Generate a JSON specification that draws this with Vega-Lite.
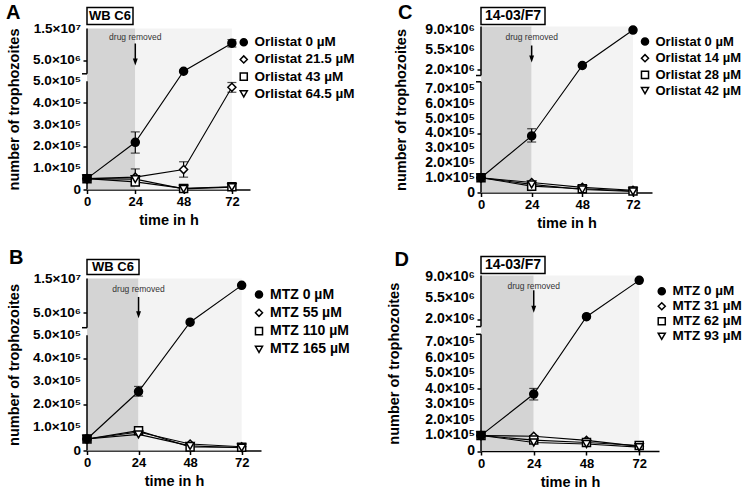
{
"$schema": "https://vega.github.io/schema/vega-lite/v6.json",
"padding": {"left": 5, "top": 1.5, "right": 5, "bottom": 0},
"config": {
  "font": "Liberation Sans",
  "view": {"stroke": null},
  "axis": {"grid": false, "labelFont": "Liberation Sans", "labelFontWeight": "bold", "labelColor": "black", "titleFont": "Liberation Sans", "titleFontWeight": "bold", "titleColor": "black", "tickColor": "black", "tickSize": 4, "tickWidth": 1.5, "domainColor": "black", "domainWidth": 1.5, "labelPadding": 2},
  "legend": {"labelFont": "Liberation Sans", "labelFontWeight": "bold", "labelColor": "black", "symbolStrokeColor": "black", "symbolStrokeWidth": 1.5, "symbolSize": 50, "labelOffset": 4, "padding": 0, "symbolOpacity": 1}
},
"datasets": {
  "phases": [{"start": 0, "end": 24, "phase": "drug"}, {"start": 24, "end": 72, "phase": "washout"}],
  "annot": [
    {"panel": "A", "label": "drug removed", "t": 24},
    {"panel": "B", "label": "drug removed", "t": 24},
    {"panel": "C", "label": "drug removed", "t": 24},
    {"panel": "D", "label": "drug removed", "t": 24}
  ],
  "boxes": [
    {"panel": "A", "label": "WB C6"},
    {"panel": "B", "label": "WB C6"},
    {"panel": "C", "label": "14-03/F7"},
    {"panel": "D", "label": "14-03/F7"}
  ],
  "yticks": [
    {"panel": "A", "value": 0, "label": "0"}, {"panel": "A", "value": 100000, "label": "1.0×10⁵"}, {"panel": "A", "value": 200000, "label": "2.0×10⁵"}, {"panel": "A", "value": 300000, "label": "3.0×10⁵"}, {"panel": "A", "value": 400000, "label": "4.0×10⁵"}, {"panel": "A", "value": 500000, "label": "5.0×10⁵"}, {"panel": "A", "value": 5000000, "label": "5.0×10⁶"}, {"panel": "A", "value": 15000000, "label": "1.5×10⁷"},
    {"panel": "B", "value": 0, "label": "0"}, {"panel": "B", "value": 100000, "label": "1.0×10⁵"}, {"panel": "B", "value": 200000, "label": "2.0×10⁵"}, {"panel": "B", "value": 300000, "label": "3.0×10⁵"}, {"panel": "B", "value": 400000, "label": "4.0×10⁵"}, {"panel": "B", "value": 500000, "label": "5.0×10⁵"}, {"panel": "B", "value": 5000000, "label": "5.0×10⁶"}, {"panel": "B", "value": 15000000, "label": "1.5×10⁷"},
    {"panel": "C", "value": 0, "label": "0"}, {"panel": "C", "value": 100000, "label": "1.0×10⁵"}, {"panel": "C", "value": 200000, "label": "2.0×10⁵"}, {"panel": "C", "value": 300000, "label": "3.0×10⁵"}, {"panel": "C", "value": 400000, "label": "4.0×10⁵"}, {"panel": "C", "value": 500000, "label": "5.0×10⁵"}, {"panel": "C", "value": 600000, "label": "6.0×10⁵"}, {"panel": "C", "value": 700000, "label": "7.0×10⁵"}, {"panel": "C", "value": 2000000, "label": "2.0×10⁶"}, {"panel": "C", "value": 5500000, "label": "5.5×10⁶"}, {"panel": "C", "value": 9000000, "label": "9.0×10⁶"},
    {"panel": "D", "value": 0, "label": "0"}, {"panel": "D", "value": 100000, "label": "1.0×10⁵"}, {"panel": "D", "value": 200000, "label": "2.0×10⁵"}, {"panel": "D", "value": 300000, "label": "3.0×10⁵"}, {"panel": "D", "value": 400000, "label": "4.0×10⁵"}, {"panel": "D", "value": 500000, "label": "5.0×10⁵"}, {"panel": "D", "value": 600000, "label": "6.0×10⁵"}, {"panel": "D", "value": 700000, "label": "7.0×10⁵"}, {"panel": "D", "value": 2000000, "label": "2.0×10⁶"}, {"panel": "D", "value": 5500000, "label": "5.5×10⁶"}, {"panel": "D", "value": 9000000, "label": "9.0×10⁶"}
  ],
  "growth": [
    {"panel": "A", "series": "Orlistat 21.5 µM", "t": 0, "v": 50000},
    {"panel": "A", "series": "Orlistat 21.5 µM", "t": 24, "v": 57000, "lo": 20000, "hi": 95000},
    {"panel": "A", "series": "Orlistat 21.5 µM", "t": 48, "v": 92000, "lo": 57000, "hi": 128000},
    {"panel": "A", "series": "Orlistat 21.5 µM", "t": 72, "v": 472000, "lo": 449000, "hi": 494000},
    {"panel": "A", "series": "Orlistat 43 µM", "t": 0, "v": 50000},
    {"panel": "A", "series": "Orlistat 43 µM", "t": 24, "v": 35000},
    {"panel": "A", "series": "Orlistat 43 µM", "t": 48, "v": 5000},
    {"panel": "A", "series": "Orlistat 43 µM", "t": 72, "v": 13000},
    {"panel": "A", "series": "Orlistat 64.5 µM", "t": 0, "v": 50000},
    {"panel": "A", "series": "Orlistat 64.5 µM", "t": 24, "v": 48000},
    {"panel": "A", "series": "Orlistat 64.5 µM", "t": 48, "v": 3000},
    {"panel": "A", "series": "Orlistat 64.5 µM", "t": 72, "v": 11000},
    {"panel": "A", "series": "Orlistat 0 µM", "t": 0, "v": 50000},
    {"panel": "A", "series": "Orlistat 0 µM", "t": 24, "v": 218000, "lo": 168000, "hi": 266000},
    {"panel": "A", "series": "Orlistat 0 µM", "t": 48, "v": 1600000},
    {"panel": "A", "series": "Orlistat 0 µM", "t": 72, "v": 10400000, "lo": 9200000, "hi": 11500000},
    {"panel": "B", "series": "MTZ 55 µM", "t": 0, "v": 50000},
    {"panel": "B", "series": "MTZ 55 µM", "t": 24, "v": 80000},
    {"panel": "B", "series": "MTZ 55 µM", "t": 48, "v": 28000},
    {"panel": "B", "series": "MTZ 55 µM", "t": 72, "v": 16000},
    {"panel": "B", "series": "MTZ 110 µM", "t": 0, "v": 50000},
    {"panel": "B", "series": "MTZ 110 µM", "t": 24, "v": 86000},
    {"panel": "B", "series": "MTZ 110 µM", "t": 48, "v": 15000},
    {"panel": "B", "series": "MTZ 110 µM", "t": 72, "v": 14000},
    {"panel": "B", "series": "MTZ 165 µM", "t": 0, "v": 50000},
    {"panel": "B", "series": "MTZ 165 µM", "t": 24, "v": 70000},
    {"panel": "B", "series": "MTZ 165 µM", "t": 48, "v": 20000},
    {"panel": "B", "series": "MTZ 165 µM", "t": 72, "v": 12000},
    {"panel": "B", "series": "MTZ 0 µM", "t": 0, "v": 50000},
    {"panel": "B", "series": "MTZ 0 µM", "t": 24, "v": 256000, "lo": 236000, "hi": 278000},
    {"panel": "B", "series": "MTZ 0 µM", "t": 48, "v": 2200000},
    {"panel": "B", "series": "MTZ 0 µM", "t": 72, "v": 13000000},
    {"panel": "C", "series": "Orlistat 14 µM", "t": 0, "v": 100000},
    {"panel": "C", "series": "Orlistat 14 µM", "t": 24, "v": 68000},
    {"panel": "C", "series": "Orlistat 14 µM", "t": 48, "v": 35000},
    {"panel": "C", "series": "Orlistat 14 µM", "t": 72, "v": 15000},
    {"panel": "C", "series": "Orlistat 28 µM", "t": 0, "v": 100000},
    {"panel": "C", "series": "Orlistat 28 µM", "t": 24, "v": 43000},
    {"panel": "C", "series": "Orlistat 28 µM", "t": 48, "v": 25000},
    {"panel": "C", "series": "Orlistat 28 µM", "t": 72, "v": 10000},
    {"panel": "C", "series": "Orlistat 42 µM", "t": 0, "v": 100000},
    {"panel": "C", "series": "Orlistat 42 µM", "t": 24, "v": 55000},
    {"panel": "C", "series": "Orlistat 42 µM", "t": 48, "v": 20000},
    {"panel": "C", "series": "Orlistat 42 µM", "t": 72, "v": 7000},
    {"panel": "C", "series": "Orlistat 0 µM", "t": 0, "v": 100000},
    {"panel": "C", "series": "Orlistat 0 µM", "t": 24, "v": 383000, "lo": 342000, "hi": 432000},
    {"panel": "C", "series": "Orlistat 0 µM", "t": 48, "v": 2700000},
    {"panel": "C", "series": "Orlistat 0 µM", "t": 72, "v": 8900000},
    {"panel": "D", "series": "MTZ 31 µM", "t": 0, "v": 100000},
    {"panel": "D", "series": "MTZ 31 µM", "t": 24, "v": 95000},
    {"panel": "D", "series": "MTZ 31 µM", "t": 48, "v": 68000},
    {"panel": "D", "series": "MTZ 31 µM", "t": 72, "v": 30000},
    {"panel": "D", "series": "MTZ 62 µM", "t": 0, "v": 100000},
    {"panel": "D", "series": "MTZ 62 µM", "t": 24, "v": 70000},
    {"panel": "D", "series": "MTZ 62 µM", "t": 48, "v": 55000},
    {"panel": "D", "series": "MTZ 62 µM", "t": 72, "v": 35000},
    {"panel": "D", "series": "MTZ 93 µM", "t": 0, "v": 100000},
    {"panel": "D", "series": "MTZ 93 µM", "t": 24, "v": 55000},
    {"panel": "D", "series": "MTZ 93 µM", "t": 48, "v": 45000},
    {"panel": "D", "series": "MTZ 93 µM", "t": 72, "v": 25000},
    {"panel": "D", "series": "MTZ 0 µM", "t": 0, "v": 100000},
    {"panel": "D", "series": "MTZ 0 µM", "t": 24, "v": 366000, "lo": 328000, "hi": 402000},
    {"panel": "D", "series": "MTZ 0 µM", "t": 48, "v": 2430000},
    {"panel": "D", "series": "MTZ 0 µM", "t": 72, "v": 8400000}
  ]
},
"spacing": 31,
"resolve": {"scale": {"shape": "independent", "fill": "independent"}, "legend": {"shape": "independent", "fill": "independent"}},
"hconcat": [
 {
  "spacing": 19,
  "resolve": {"scale": {"shape": "independent", "fill": "independent"}, "legend": {"shape": "independent", "fill": "independent"}},
  "vconcat": [
   {
    "spacing": 4, "bounds": "flush",
    "resolve": {"scale": {"shape": "independent", "fill": "independent"}, "legend": {"shape": "independent", "fill": "independent"}},
    "vconcat": [
     {"width": 46, "height": 17, "view": {"stroke": "black", "strokeWidth": 1.5},
      "data": {"name": "boxes"}, "transform": [{"filter": "datum.panel == 'A'"}],
      "mark": {"type": "text", "fontSize": 13, "fontWeight": "bold", "color": "black", "font": "Liberation Sans"},
      "encoding": {"text": {"field": "label"}},
      "title": {"text": "A", "orient": "left", "angle": 0, "align": "right", "baseline": "middle", "anchor": "middle", "offset": 52, "dy": -3, "fontSize": 20, "fontWeight": "bold", "color": "black", "font": "Liberation Sans"}},
     {"width": 163, "height": 161,
      "layer": [
       {"data": {"name": "phases"}, "mark": {"type": "rect"},
        "encoding": {"x": {"field": "start", "type": "quantitative", "scale": {"domain": [0, 81], "nice": false, "zero": false}}, "x2": {"field": "end"},
          "color": {"field": "phase", "type": "nominal", "scale": {"domain": ["drug", "washout"], "range": ["#d4d4d4", "#f3f3f3"]}, "legend": null}}},
       {"data": {"name": "annot"}, "transform": [{"filter": "datum.panel == 'A'"}], "mark": {"type": "rule", "color": "black", "strokeWidth": 1.5},
        "encoding": {"x": {"datum": 0, "type": "quantitative", "scale": {"domain": [0, 81], "nice": false, "zero": false}},
          "y": {"datum": 0, "type": "quantitative", "scale": {"domain": [0, 500000, 800000, 15000000], "range": [161, 52.7, 45.3, 0], "nice": false, "zero": false}}, "y2": {"datum": 500000}}},
       {"data": {"name": "annot"}, "transform": [{"filter": "datum.panel == 'A'"}], "mark": {"type": "rule", "color": "black", "strokeWidth": 1.5},
        "encoding": {"x": {"datum": 0, "type": "quantitative", "scale": {"domain": [0, 81], "nice": false, "zero": false}},
          "y": {"datum": 800000, "type": "quantitative", "scale": {"domain": [0, 500000, 800000, 15000000], "range": [161, 52.7, 45.3, 0], "nice": false, "zero": false}}, "y2": {"datum": 15000000}}},
       {"data": {"name": "annot"}, "transform": [{"filter": "datum.panel == 'A'"}], "mark": {"type": "tick", "orient": "horizontal", "size": 5, "thickness": 1.5, "color": "black", "xOffset": -2.5, "opacity": 1},
        "encoding": {"x": {"datum": 0, "type": "quantitative", "scale": {"domain": [0, 81], "nice": false, "zero": false}},
          "y": {"datum": 800000, "type": "quantitative", "scale": {"domain": [0, 500000, 800000, 15000000], "range": [161, 52.7, 45.3, 0], "nice": false, "zero": false}}}},
       {"data": {"name": "yticks"}, "transform": [{"filter": "datum.panel == 'A'"}], "mark": {"type": "text", "align": "right", "baseline": "middle", "dx": -6, "fontSize": 13.5, "fontWeight": "bold", "font": "Liberation Sans", "color": "black"},
        "encoding": {"x": {"datum": 0, "type": "quantitative", "scale": {"domain": [0, 81], "nice": false, "zero": false}},
          "y": {"field": "value", "type": "quantitative", "scale": {"domain": [0, 500000, 800000, 15000000], "range": [161, 52.7, 45.3, 0], "nice": false, "zero": false}}, "text": {"field": "label"}}},
       {"data": {"name": "annot"}, "transform": [{"filter": "datum.panel == 'A'"}], "mark": {"type": "text", "fontSize": 8.5, "color": "#333333", "baseline": "middle", "align": "center"},
        "encoding": {"x": {"field": "t", "type": "quantitative", "scale": {"domain": [0, 81], "nice": false, "zero": false}},
          "y": {"datum": 12180000, "type": "quantitative", "scale": {"domain": [0, 500000, 800000, 15000000], "range": [161, 52.7, 45.3, 0], "nice": false, "zero": false}}, "text": {"field": "label"}}},
       {"data": {"name": "annot"}, "transform": [{"filter": "datum.panel == 'A'"}], "mark": {"type": "rule", "color": "black", "strokeWidth": 1.5},
        "encoding": {"x": {"field": "t", "type": "quantitative", "scale": {"domain": [0, 81], "nice": false, "zero": false}},
          "y": {"datum": 10300000, "type": "quantitative", "scale": {"domain": [0, 500000, 800000, 15000000], "range": [161, 52.7, 45.3, 0], "nice": false, "zero": false}}, "y2": {"datum": 4500000}}},
       {"data": {"name": "annot"}, "transform": [{"filter": "datum.panel == 'A'"}], "mark": {"type": "point", "shape": "M-0.7,-1L0.7,-1L0,1Z", "size": 49, "filled": true, "color": "black", "opacity": 1},
        "encoding": {"x": {"field": "t", "type": "quantitative", "scale": {"domain": [0, 81], "nice": false, "zero": false}},
          "y": {"datum": 4500000, "type": "quantitative", "scale": {"domain": [0, 500000, 800000, 15000000], "range": [161, 52.7, 45.3, 0], "nice": false, "zero": false}}}},
       {"data": {"name": "growth"}, "transform": [{"filter": "datum.panel == 'A' && isValid(datum.lo)"}], "mark": {"type": "errorbar", "ticks": {"size": 9}, "color": "black", "thickness": 1.2},
        "encoding": {"x": {"field": "t", "type": "quantitative", "title": "time in h", "scale": {"domain": [0, 81], "nice": false, "zero": false}},
          "y": {"field": "lo", "type": "quantitative", "title": "number of trophozoites", "scale": {"domain": [0, 500000, 800000, 15000000], "range": [161, 52.7, 45.3, 0], "nice": false, "zero": false}}, "y2": {"field": "hi"}}},
       {"data": {"name": "growth"}, "transform": [{"filter": "datum.panel == 'A'"}], "mark": {"type": "line", "color": "black", "strokeWidth": 1.1},
        "encoding": {"x": {"field": "t", "type": "quantitative", "scale": {"domain": [0, 81], "nice": false, "zero": false}},
          "y": {"field": "v", "type": "quantitative", "scale": {"domain": [0, 500000, 800000, 15000000], "range": [161, 52.7, 45.3, 0], "nice": false, "zero": false}}, "detail": {"field": "series"}}},
       {"data": {"name": "growth"}, "transform": [{"filter": "datum.panel == 'A'"}], "mark": {"type": "point", "size": 64, "filled": true, "stroke": "black", "strokeWidth": 1.5, "opacity": 1},
        "encoding": {"x": {"field": "t", "type": "quantitative", "scale": {"domain": [0, 81], "nice": false, "zero": false},
            "axis": {"title": "time in h", "values": [0, 24, 48, 72], "labelFlush": false, "titleFontSize": 14.5, "titlePadding": 5, "labelFontSize": 13}},
          "y": {"field": "v", "type": "quantitative", "scale": {"domain": [0, 500000, 800000, 15000000], "range": [161, 52.7, 45.3, 0], "nice": false, "zero": false},
            "axis": {"title": "number of trophozoites", "domain": false, "labels": false, "titleFontSize": 14.5, "titlePadding": 61,
              "values": [0, 100000, 200000, 300000, 400000, 500000, 5000000, 15000000]}},
          "shape": {"field": "series", "type": "nominal", "scale": {"domain": ["Orlistat 0 µM", "Orlistat 21.5 µM", "Orlistat 43 µM", "Orlistat 64.5 µM"], "range": ["circle", "diamond", "square", "triangle-down"]},
            "legend": {"title": null, "orient": "none", "legendX": 150, "legendY": 7, "labelFontSize": 13.5, "rowPadding": 2.2, "encode": {"symbols": {"update": {"stroke": {"value": "black"}, "strokeWidth": {"value": 1.5}}}}}},
          "fill": {"field": "series", "type": "nominal", "scale": {"domain": ["Orlistat 0 µM", "Orlistat 21.5 µM", "Orlistat 43 µM", "Orlistat 64.5 µM"], "range": ["black", "white", "white", "white"]},
            "legend": {"title": null, "orient": "none", "legendX": 150, "legendY": 7, "labelFontSize": 13.5, "rowPadding": 2.2, "encode": {"symbols": {"update": {"stroke": {"value": "black"}, "strokeWidth": {"value": 1.5}}}}}}}}
      ]}
    ]
   },
   {
    "spacing": 4, "bounds": "flush",
    "resolve": {"scale": {"shape": "independent", "fill": "independent"}, "legend": {"shape": "independent", "fill": "independent"}},
    "vconcat": [
     {"width": 52, "height": 15, "view": {"stroke": "black", "strokeWidth": 1.5},
      "data": {"name": "boxes"}, "transform": [{"filter": "datum.panel == 'B'"}],
      "mark": {"type": "text", "fontSize": 13, "fontWeight": "bold", "color": "black", "font": "Liberation Sans"},
      "encoding": {"text": {"field": "label"}},
      "title": {"text": "B", "orient": "left", "angle": 0, "align": "right", "baseline": "middle", "anchor": "middle", "offset": 49, "dy": -9, "fontSize": 20, "fontWeight": "bold", "color": "black", "font": "Liberation Sans"}},
     {"width": 174, "height": 172,
      "layer": [
       {"data": {"name": "phases"}, "mark": {"type": "rect"},
        "encoding": {"x": {"field": "start", "type": "quantitative", "scale": {"domain": [0, 81], "nice": false, "zero": false}}, "x2": {"field": "end"},
          "color": {"field": "phase", "type": "nominal", "scale": {"domain": ["drug", "washout"], "range": ["#d4d4d4", "#f3f3f3"]}, "legend": null}}},
       {"data": {"name": "annot"}, "transform": [{"filter": "datum.panel == 'B'"}], "mark": {"type": "rule", "color": "black", "strokeWidth": 1.5},
        "encoding": {"x": {"datum": 0, "type": "quantitative", "scale": {"domain": [0, 81], "nice": false, "zero": false}},
          "y": {"datum": 0, "type": "quantitative", "scale": {"domain": [0, 500000, 600000, 15000000], "range": [172, 56.8, 49.2, 0], "nice": false, "zero": false}}, "y2": {"datum": 500000}}},
       {"data": {"name": "annot"}, "transform": [{"filter": "datum.panel == 'B'"}], "mark": {"type": "rule", "color": "black", "strokeWidth": 1.5},
        "encoding": {"x": {"datum": 0, "type": "quantitative", "scale": {"domain": [0, 81], "nice": false, "zero": false}},
          "y": {"datum": 600000, "type": "quantitative", "scale": {"domain": [0, 500000, 600000, 15000000], "range": [172, 56.8, 49.2, 0], "nice": false, "zero": false}}, "y2": {"datum": 15000000}}},
       {"data": {"name": "annot"}, "transform": [{"filter": "datum.panel == 'B'"}], "mark": {"type": "tick", "orient": "horizontal", "size": 5, "thickness": 1.5, "color": "black", "xOffset": -2.5, "opacity": 1},
        "encoding": {"x": {"datum": 0, "type": "quantitative", "scale": {"domain": [0, 81], "nice": false, "zero": false}},
          "y": {"datum": 600000, "type": "quantitative", "scale": {"domain": [0, 500000, 600000, 15000000], "range": [172, 56.8, 49.2, 0], "nice": false, "zero": false}}}},
       {"data": {"name": "yticks"}, "transform": [{"filter": "datum.panel == 'B'"}], "mark": {"type": "text", "align": "right", "baseline": "middle", "dx": -6, "fontSize": 13.5, "fontWeight": "bold", "font": "Liberation Sans", "color": "black"},
        "encoding": {"x": {"datum": 0, "type": "quantitative", "scale": {"domain": [0, 81], "nice": false, "zero": false}},
          "y": {"field": "value", "type": "quantitative", "scale": {"domain": [0, 500000, 600000, 15000000], "range": [172, 56.8, 49.2, 0], "nice": false, "zero": false}}, "text": {"field": "label"}}},
       {"data": {"name": "annot"}, "transform": [{"filter": "datum.panel == 'B'"}], "mark": {"type": "text", "fontSize": 8.5, "color": "#333333", "baseline": "middle", "align": "center"},
        "encoding": {"x": {"field": "t", "type": "quantitative", "scale": {"domain": [0, 81], "nice": false, "zero": false}},
          "y": {"datum": 12000000, "type": "quantitative", "scale": {"domain": [0, 500000, 600000, 15000000], "range": [172, 56.8, 49.2, 0], "nice": false, "zero": false}}, "text": {"field": "label"}}},
       {"data": {"name": "annot"}, "transform": [{"filter": "datum.panel == 'B'"}], "mark": {"type": "rule", "color": "black", "strokeWidth": 1.5},
        "encoding": {"x": {"field": "t", "type": "quantitative", "scale": {"domain": [0, 81], "nice": false, "zero": false}},
          "y": {"datum": 9600000, "type": "quantitative", "scale": {"domain": [0, 500000, 600000, 15000000], "range": [172, 56.8, 49.2, 0], "nice": false, "zero": false}}, "y2": {"datum": 4375000}}},
       {"data": {"name": "annot"}, "transform": [{"filter": "datum.panel == 'B'"}], "mark": {"type": "point", "shape": "M-0.7,-1L0.7,-1L0,1Z", "size": 49, "filled": true, "color": "black", "opacity": 1},
        "encoding": {"x": {"field": "t", "type": "quantitative", "scale": {"domain": [0, 81], "nice": false, "zero": false}},
          "y": {"datum": 4375000, "type": "quantitative", "scale": {"domain": [0, 500000, 600000, 15000000], "range": [172, 56.8, 49.2, 0], "nice": false, "zero": false}}}},
       {"data": {"name": "growth"}, "transform": [{"filter": "datum.panel == 'B' && isValid(datum.lo)"}], "mark": {"type": "errorbar", "ticks": {"size": 9}, "color": "black", "thickness": 1.2},
        "encoding": {"x": {"field": "t", "type": "quantitative", "title": "time in h", "scale": {"domain": [0, 81], "nice": false, "zero": false}},
          "y": {"field": "lo", "type": "quantitative", "title": "number of trophozoites", "scale": {"domain": [0, 500000, 600000, 15000000], "range": [172, 56.8, 49.2, 0], "nice": false, "zero": false}}, "y2": {"field": "hi"}}},
       {"data": {"name": "growth"}, "transform": [{"filter": "datum.panel == 'B'"}], "mark": {"type": "line", "color": "black", "strokeWidth": 1.1},
        "encoding": {"x": {"field": "t", "type": "quantitative", "scale": {"domain": [0, 81], "nice": false, "zero": false}},
          "y": {"field": "v", "type": "quantitative", "scale": {"domain": [0, 500000, 600000, 15000000], "range": [172, 56.8, 49.2, 0], "nice": false, "zero": false}}, "detail": {"field": "series"}}},
       {"data": {"name": "growth"}, "transform": [{"filter": "datum.panel == 'B'"}], "mark": {"type": "point", "size": 64, "filled": true, "stroke": "black", "strokeWidth": 1.5, "opacity": 1},
        "encoding": {"x": {"field": "t", "type": "quantitative", "scale": {"domain": [0, 81], "nice": false, "zero": false},
            "axis": {"title": "time in h", "values": [0, 24, 48, 72], "labelFlush": false, "titleFontSize": 14.5, "titlePadding": 5, "labelFontSize": 13}},
          "y": {"field": "v", "type": "quantitative", "scale": {"domain": [0, 500000, 600000, 15000000], "range": [172, 56.8, 49.2, 0], "nice": false, "zero": false},
            "axis": {"title": "number of trophozoites", "domain": false, "labels": false, "titleFontSize": 14.5, "titlePadding": 61,
              "values": [0, 100000, 200000, 300000, 400000, 500000, 5000000, 15000000]}},
          "shape": {"field": "series", "type": "nominal", "scale": {"domain": ["MTZ 0 µM", "MTZ 55 µM", "MTZ 110 µM", "MTZ 165 µM"], "range": ["circle", "diamond", "square", "triangle-down"]},
            "legend": {"title": null, "orient": "none", "legendX": 165, "legendY": 9, "labelFontSize": 14, "rowPadding": 4.3, "encode": {"symbols": {"update": {"stroke": {"value": "black"}, "strokeWidth": {"value": 1.5}}}}}},
          "fill": {"field": "series", "type": "nominal", "scale": {"domain": ["MTZ 0 µM", "MTZ 55 µM", "MTZ 110 µM", "MTZ 165 µM"], "range": ["black", "white", "white", "white"]},
            "legend": {"title": null, "orient": "none", "legendX": 165, "legendY": 9, "labelFontSize": 14, "rowPadding": 4.3, "encode": {"symbols": {"update": {"stroke": {"value": "black"}, "strokeWidth": {"value": 1.5}}}}}}}}
      ]}
    ]
   }
  ]
 },
 {
  "spacing": 18,
  "resolve": {"scale": {"shape": "independent", "fill": "independent"}, "legend": {"shape": "independent", "fill": "independent"}},
  "vconcat": [
   {
    "spacing": 2, "bounds": "flush",
    "resolve": {"scale": {"shape": "independent", "fill": "independent"}, "legend": {"shape": "independent", "fill": "independent"}},
    "vconcat": [
     {"width": 64, "height": 17, "view": {"stroke": "black", "strokeWidth": 1.5},
      "data": {"name": "boxes"}, "transform": [{"filter": "datum.panel == 'C'"}],
      "mark": {"type": "text", "fontSize": 14, "fontWeight": "bold", "color": "black", "font": "Liberation Sans"},
      "encoding": {"text": {"field": "label"}},
      "title": {"text": "C", "orient": "left", "angle": 0, "align": "right", "baseline": "middle", "anchor": "middle", "offset": 54, "dy": -3, "fontSize": 20, "fontWeight": "bold", "color": "black", "font": "Liberation Sans"}},
     {"width": 171, "height": 166,
      "layer": [
       {"data": {"name": "phases"}, "mark": {"type": "rect"},
        "encoding": {"x": {"field": "start", "type": "quantitative", "scale": {"domain": [0, 81], "nice": false, "zero": false}}, "x2": {"field": "end"},
          "color": {"field": "phase", "type": "nominal", "scale": {"domain": ["drug", "washout"], "range": ["#d4d4d4", "#f3f3f3"]}, "legend": null}}},
       {"data": {"name": "annot"}, "transform": [{"filter": "datum.panel == 'C'"}], "mark": {"type": "rule", "color": "black", "strokeWidth": 1.5},
        "encoding": {"x": {"datum": 0, "type": "quantitative", "scale": {"domain": [0, 81], "nice": false, "zero": false}},
          "y": {"datum": 0, "type": "quantitative", "scale": {"domain": [0, 750000, 950000, 9525000], "range": [166, 55.3, 49, 0], "nice": false, "zero": false}}, "y2": {"datum": 750000}}},
       {"data": {"name": "annot"}, "transform": [{"filter": "datum.panel == 'C'"}], "mark": {"type": "rule", "color": "black", "strokeWidth": 1.5},
        "encoding": {"x": {"datum": 0, "type": "quantitative", "scale": {"domain": [0, 81], "nice": false, "zero": false}},
          "y": {"datum": 950000, "type": "quantitative", "scale": {"domain": [0, 750000, 950000, 9525000], "range": [166, 55.3, 49, 0], "nice": false, "zero": false}}, "y2": {"datum": 9525000}}},
       {"data": {"name": "annot"}, "transform": [{"filter": "datum.panel == 'C'"}], "mark": {"type": "tick", "orient": "horizontal", "size": 5, "thickness": 1.5, "color": "black", "xOffset": -2.5, "opacity": 1},
        "encoding": {"x": {"datum": 0, "type": "quantitative", "scale": {"domain": [0, 81], "nice": false, "zero": false}},
          "y": {"datum": 750000, "type": "quantitative", "scale": {"domain": [0, 750000, 950000, 9525000], "range": [166, 55.3, 49, 0], "nice": false, "zero": false}}}},
       {"data": {"name": "annot"}, "transform": [{"filter": "datum.panel == 'C'"}], "mark": {"type": "tick", "orient": "horizontal", "size": 5, "thickness": 1.5, "color": "black", "xOffset": -2.5, "opacity": 1},
        "encoding": {"x": {"datum": 0, "type": "quantitative", "scale": {"domain": [0, 81], "nice": false, "zero": false}},
          "y": {"datum": 950000, "type": "quantitative", "scale": {"domain": [0, 750000, 950000, 9525000], "range": [166, 55.3, 49, 0], "nice": false, "zero": false}}}},
       {"data": {"name": "yticks"}, "transform": [{"filter": "datum.panel == 'C'"}], "mark": {"type": "text", "align": "right", "baseline": "middle", "dx": -6, "fontSize": 14, "fontWeight": "bold", "font": "Liberation Sans", "color": "black"},
        "encoding": {"x": {"datum": 0, "type": "quantitative", "scale": {"domain": [0, 81], "nice": false, "zero": false}},
          "y": {"field": "value", "type": "quantitative", "scale": {"domain": [0, 750000, 950000, 9525000], "range": [166, 55.3, 49, 0], "nice": false, "zero": false}}, "text": {"field": "label"}}},
       {"data": {"name": "annot"}, "transform": [{"filter": "datum.panel == 'C'"}], "mark": {"type": "text", "fontSize": 8.5, "color": "#333333", "baseline": "middle", "align": "center"},
        "encoding": {"x": {"field": "t", "type": "quantitative", "scale": {"domain": [0, 81], "nice": false, "zero": false}},
          "y": {"datum": 7720000, "type": "quantitative", "scale": {"domain": [0, 750000, 950000, 9525000], "range": [166, 55.3, 49, 0], "nice": false, "zero": false}}, "text": {"field": "label"}}},
       {"data": {"name": "annot"}, "transform": [{"filter": "datum.panel == 'C'"}], "mark": {"type": "rule", "color": "black", "strokeWidth": 1.5},
        "encoding": {"x": {"field": "t", "type": "quantitative", "scale": {"domain": [0, 81], "nice": false, "zero": false}},
          "y": {"datum": 6200000, "type": "quantitative", "scale": {"domain": [0, 750000, 950000, 9525000], "range": [166, 55.3, 49, 0], "nice": false, "zero": false}}, "y2": {"datum": 3840000}}},
       {"data": {"name": "annot"}, "transform": [{"filter": "datum.panel == 'C'"}], "mark": {"type": "point", "shape": "M-0.7,-1L0.7,-1L0,1Z", "size": 49, "filled": true, "color": "black", "opacity": 1},
        "encoding": {"x": {"field": "t", "type": "quantitative", "scale": {"domain": [0, 81], "nice": false, "zero": false}},
          "y": {"datum": 3840000, "type": "quantitative", "scale": {"domain": [0, 750000, 950000, 9525000], "range": [166, 55.3, 49, 0], "nice": false, "zero": false}}}},
       {"data": {"name": "growth"}, "transform": [{"filter": "datum.panel == 'C' && isValid(datum.lo)"}], "mark": {"type": "errorbar", "ticks": {"size": 9}, "color": "black", "thickness": 1.2},
        "encoding": {"x": {"field": "t", "type": "quantitative", "title": "time in h", "scale": {"domain": [0, 81], "nice": false, "zero": false}},
          "y": {"field": "lo", "type": "quantitative", "title": "number of trophozoites", "scale": {"domain": [0, 750000, 950000, 9525000], "range": [166, 55.3, 49, 0], "nice": false, "zero": false}}, "y2": {"field": "hi"}}},
       {"data": {"name": "growth"}, "transform": [{"filter": "datum.panel == 'C'"}], "mark": {"type": "line", "color": "black", "strokeWidth": 1.1},
        "encoding": {"x": {"field": "t", "type": "quantitative", "scale": {"domain": [0, 81], "nice": false, "zero": false}},
          "y": {"field": "v", "type": "quantitative", "scale": {"domain": [0, 750000, 950000, 9525000], "range": [166, 55.3, 49, 0], "nice": false, "zero": false}}, "detail": {"field": "series"}}},
       {"data": {"name": "growth"}, "transform": [{"filter": "datum.panel == 'C'"}], "mark": {"type": "point", "size": 64, "filled": true, "stroke": "black", "strokeWidth": 1.5, "opacity": 1},
        "encoding": {"x": {"field": "t", "type": "quantitative", "scale": {"domain": [0, 81], "nice": false, "zero": false},
            "axis": {"title": "time in h", "values": [0, 24, 48, 72], "labelFlush": false, "titleFontSize": 14.5, "titlePadding": 5, "labelFontSize": 13}},
          "y": {"field": "v", "type": "quantitative", "scale": {"domain": [0, 750000, 950000, 9525000], "range": [166, 55.3, 49, 0], "nice": false, "zero": false},
            "axis": {"title": "number of trophozoites", "domain": false, "labels": false, "titleFontSize": 14.5, "titlePadding": 68,
              "values": [0, 100000, 200000, 300000, 400000, 500000, 600000, 700000, 2000000, 5500000, 9000000]}},
          "shape": {"field": "series", "type": "nominal", "scale": {"domain": ["Orlistat 0 µM", "Orlistat 14 µM", "Orlistat 28 µM", "Orlistat 42 µM"], "range": ["circle", "diamond", "square", "triangle-down"]},
            "legend": {"title": null, "orient": "none", "legendX": 157.5, "legendY": 8.5, "labelFontSize": 13, "rowPadding": 1.7, "encode": {"symbols": {"update": {"stroke": {"value": "black"}, "strokeWidth": {"value": 1.5}}}}}},
          "fill": {"field": "series", "type": "nominal", "scale": {"domain": ["Orlistat 0 µM", "Orlistat 14 µM", "Orlistat 28 µM", "Orlistat 42 µM"], "range": ["black", "white", "white", "white"]},
            "legend": {"title": null, "orient": "none", "legendX": 157.5, "legendY": 8.5, "labelFontSize": 13, "rowPadding": 1.7, "encode": {"symbols": {"update": {"stroke": {"value": "black"}, "strokeWidth": {"value": 1.5}}}}}}}}
      ]}
    ]
   },
   {
    "spacing": 2, "bounds": "flush",
    "resolve": {"scale": {"shape": "independent", "fill": "independent"}, "legend": {"shape": "independent", "fill": "independent"}},
    "vconcat": [
     {"width": 64, "height": 17, "view": {"stroke": "black", "strokeWidth": 1.5},
      "data": {"name": "boxes"}, "transform": [{"filter": "datum.panel == 'D'"}],
      "mark": {"type": "text", "fontSize": 14, "fontWeight": "bold", "color": "black", "font": "Liberation Sans"},
      "encoding": {"text": {"field": "label"}},
      "title": {"text": "D", "orient": "left", "angle": 0, "align": "right", "baseline": "middle", "anchor": "middle", "offset": 57.5, "dy": -5.5, "fontSize": 20, "fontWeight": "bold", "color": "black", "font": "Liberation Sans"}},
     {"width": 178, "height": 175.5,
      "layer": [
       {"data": {"name": "phases"}, "mark": {"type": "rect"},
        "encoding": {"x": {"field": "start", "type": "quantitative", "scale": {"domain": [0, 81], "nice": false, "zero": false}}, "x2": {"field": "end"},
          "color": {"field": "phase", "type": "nominal", "scale": {"domain": ["drug", "washout"], "range": ["#d4d4d4", "#f3f3f3"]}, "legend": null}}},
       {"data": {"name": "annot"}, "transform": [{"filter": "datum.panel == 'D'"}], "mark": {"type": "rule", "color": "black", "strokeWidth": 1.5},
        "encoding": {"x": {"datum": 0, "type": "quantitative", "scale": {"domain": [0, 81], "nice": false, "zero": false}},
          "y": {"datum": 0, "type": "quantitative", "scale": {"domain": [0, 750000, 800000, 9200000], "range": [175.5, 58.8, 51.1, 0], "nice": false, "zero": false}}, "y2": {"datum": 750000}}},
       {"data": {"name": "annot"}, "transform": [{"filter": "datum.panel == 'D'"}], "mark": {"type": "rule", "color": "black", "strokeWidth": 1.5},
        "encoding": {"x": {"datum": 0, "type": "quantitative", "scale": {"domain": [0, 81], "nice": false, "zero": false}},
          "y": {"datum": 800000, "type": "quantitative", "scale": {"domain": [0, 750000, 800000, 9200000], "range": [175.5, 58.8, 51.1, 0], "nice": false, "zero": false}}, "y2": {"datum": 9200000}}},
       {"data": {"name": "annot"}, "transform": [{"filter": "datum.panel == 'D'"}], "mark": {"type": "tick", "orient": "horizontal", "size": 5, "thickness": 1.5, "color": "black", "xOffset": -2.5, "opacity": 1},
        "encoding": {"x": {"datum": 0, "type": "quantitative", "scale": {"domain": [0, 81], "nice": false, "zero": false}},
          "y": {"datum": 750000, "type": "quantitative", "scale": {"domain": [0, 750000, 800000, 9200000], "range": [175.5, 58.8, 51.1, 0], "nice": false, "zero": false}}}},
       {"data": {"name": "annot"}, "transform": [{"filter": "datum.panel == 'D'"}], "mark": {"type": "tick", "orient": "horizontal", "size": 5, "thickness": 1.5, "color": "black", "xOffset": -2.5, "opacity": 1},
        "encoding": {"x": {"datum": 0, "type": "quantitative", "scale": {"domain": [0, 81], "nice": false, "zero": false}},
          "y": {"datum": 800000, "type": "quantitative", "scale": {"domain": [0, 750000, 800000, 9200000], "range": [175.5, 58.8, 51.1, 0], "nice": false, "zero": false}}}},
       {"data": {"name": "yticks"}, "transform": [{"filter": "datum.panel == 'D'"}], "mark": {"type": "text", "align": "right", "baseline": "middle", "dx": -6, "fontSize": 14, "fontWeight": "bold", "font": "Liberation Sans", "color": "black"},
        "encoding": {"x": {"datum": 0, "type": "quantitative", "scale": {"domain": [0, 81], "nice": false, "zero": false}},
          "y": {"field": "value", "type": "quantitative", "scale": {"domain": [0, 750000, 800000, 9200000], "range": [175.5, 58.8, 51.1, 0], "nice": false, "zero": false}}, "text": {"field": "label"}}},
       {"data": {"name": "annot"}, "transform": [{"filter": "datum.panel == 'D'"}], "mark": {"type": "text", "fontSize": 8.5, "color": "#333333", "baseline": "middle", "align": "center"},
        "encoding": {"x": {"field": "t", "type": "quantitative", "scale": {"domain": [0, 81], "nice": false, "zero": false}},
          "y": {"datum": 7470000, "type": "quantitative", "scale": {"domain": [0, 750000, 800000, 9200000], "range": [175.5, 58.8, 51.1, 0], "nice": false, "zero": false}}, "text": {"field": "label"}}},
       {"data": {"name": "annot"}, "transform": [{"filter": "datum.panel == 'D'"}], "mark": {"type": "rule", "color": "black", "strokeWidth": 1.5},
        "encoding": {"x": {"field": "t", "type": "quantitative", "scale": {"domain": [0, 81], "nice": false, "zero": false}},
          "y": {"datum": 6770000, "type": "quantitative", "scale": {"domain": [0, 750000, 800000, 9200000], "range": [175.5, 58.8, 51.1, 0], "nice": false, "zero": false}}, "y2": {"datum": 3660000}}},
       {"data": {"name": "annot"}, "transform": [{"filter": "datum.panel == 'D'"}], "mark": {"type": "point", "shape": "M-0.7,-1L0.7,-1L0,1Z", "size": 49, "filled": true, "color": "black", "opacity": 1},
        "encoding": {"x": {"field": "t", "type": "quantitative", "scale": {"domain": [0, 81], "nice": false, "zero": false}},
          "y": {"datum": 3660000, "type": "quantitative", "scale": {"domain": [0, 750000, 800000, 9200000], "range": [175.5, 58.8, 51.1, 0], "nice": false, "zero": false}}}},
       {"data": {"name": "growth"}, "transform": [{"filter": "datum.panel == 'D' && isValid(datum.lo)"}], "mark": {"type": "errorbar", "ticks": {"size": 9}, "color": "black", "thickness": 1.2},
        "encoding": {"x": {"field": "t", "type": "quantitative", "title": "time in h", "scale": {"domain": [0, 81], "nice": false, "zero": false}},
          "y": {"field": "lo", "type": "quantitative", "title": "number of trophozoites", "scale": {"domain": [0, 750000, 800000, 9200000], "range": [175.5, 58.8, 51.1, 0], "nice": false, "zero": false}}, "y2": {"field": "hi"}}},
       {"data": {"name": "growth"}, "transform": [{"filter": "datum.panel == 'D'"}], "mark": {"type": "line", "color": "black", "strokeWidth": 1.1},
        "encoding": {"x": {"field": "t", "type": "quantitative", "scale": {"domain": [0, 81], "nice": false, "zero": false}},
          "y": {"field": "v", "type": "quantitative", "scale": {"domain": [0, 750000, 800000, 9200000], "range": [175.5, 58.8, 51.1, 0], "nice": false, "zero": false}}, "detail": {"field": "series"}}},
       {"data": {"name": "growth"}, "transform": [{"filter": "datum.panel == 'D'"}], "mark": {"type": "point", "size": 64, "filled": true, "stroke": "black", "strokeWidth": 1.5, "opacity": 1},
        "encoding": {"x": {"field": "t", "type": "quantitative", "scale": {"domain": [0, 81], "nice": false, "zero": false},
            "axis": {"title": "time in h", "values": [0, 24, 48, 72], "labelFlush": false, "titleFontSize": 14.5, "titlePadding": 5, "labelFontSize": 13}},
          "y": {"field": "v", "type": "quantitative", "scale": {"domain": [0, 750000, 800000, 9200000], "range": [175.5, 58.8, 51.1, 0], "nice": false, "zero": false},
            "axis": {"title": "number of trophozoites", "domain": false, "labels": false, "titleFontSize": 14.5, "titlePadding": 75,
              "values": [0, 100000, 200000, 300000, 400000, 500000, 600000, 700000, 2000000, 5500000, 9000000]}},
          "shape": {"field": "series", "type": "nominal", "scale": {"domain": ["MTZ 0 µM", "MTZ 31 µM", "MTZ 62 µM", "MTZ 93 µM"], "range": ["circle", "diamond", "square", "triangle-down"]},
            "legend": {"title": null, "orient": "none", "legendX": 174, "legendY": 9, "labelFontSize": 13.5, "rowPadding": 0, "encode": {"symbols": {"update": {"stroke": {"value": "black"}, "strokeWidth": {"value": 1.5}}}}}},
          "fill": {"field": "series", "type": "nominal", "scale": {"domain": ["MTZ 0 µM", "MTZ 31 µM", "MTZ 62 µM", "MTZ 93 µM"], "range": ["black", "white", "white", "white"]},
            "legend": {"title": null, "orient": "none", "legendX": 174, "legendY": 9, "labelFontSize": 13.5, "rowPadding": 0, "encode": {"symbols": {"update": {"stroke": {"value": "black"}, "strokeWidth": {"value": 1.5}}}}}}}}
      ]}
    ]
   }
  ]
 }
]
}
